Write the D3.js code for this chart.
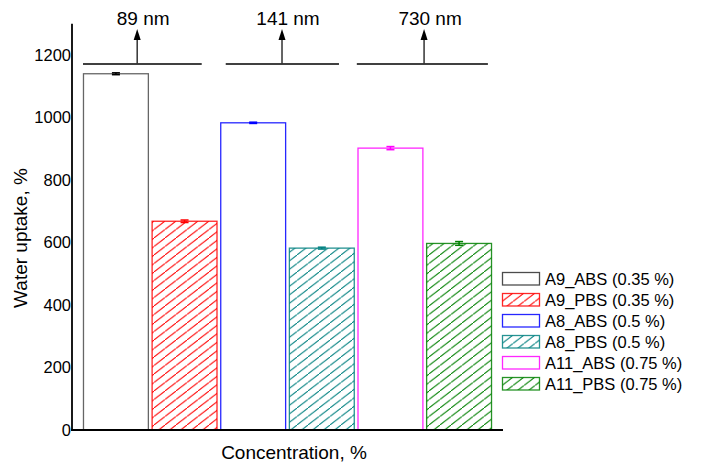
<!DOCTYPE html>
<html>
<head>
<meta charset="utf-8">
<script src="https://cdn.jsdelivr.net/npm/d3@7"></script>
<style>
  body { margin: 0; background: #fff; }
  svg { font-family: "Liberation Sans", Arial, sans-serif; }
</style>
</head>
<body>
<div id="chart"></div>
<script>
// data
const seriesNames = ["A9_ABS (0.35 %)", "A9_PBS (0.35 %)", "A8_ABS (0.5 %)", "A8_PBS (0.5 %)", "A11_ABS (0.75 %)", "A11_PBS (0.75 %)"];
const uptake = [1140, 668, 983, 582, 902, 597];
const uptakeErr = [3, 4, 2, 3, 5, 6];
const yTicks = [0, 200, 400, 600, 800, 1000, 1200];
const sizeLabels = ["89 nm", "141 nm", "730 nm"];

// styling
const strokeColors = ["#000000", "#ff0000", "#0000ff", "#008080", "#ff00ff", "#008000"];
const hatched = [false, true, false, true, false, true];

// bracket layout in bar-index units (annotation, not data)
const brackets = [
  { from: 0, to: 1.73, arrow: 0.79 },
  { from: 2.08, to: 3.73, arrow: 2.9 },
  { from: 3.99, to: 5.9, arrow: 4.97 }
];

const W = 701, H = 469;
const svg = d3.select("#chart").append("svg")
  .attr("width", W).attr("height", H);

const defs = svg.append("defs");
strokeColors.forEach((c, i) => {
  if (!hatched[i]) return;
  const p = defs.append("pattern")
    .attr("id", "hatch" + i)
    .attr("patternUnits", "userSpaceOnUse")
    .attr("width", 11).attr("height", 8.5);
  p.append("rect").attr("width", 11).attr("height", 8.5).attr("fill", "#fff");
  p.append("line")
    .attr("x1", -1).attr("y1", 8.5 + 8.5 / 11)
    .attr("x2", 12).attr("y2", -8.5 / 11)
    .attr("stroke", c).attr("stroke-width", 1);
});

const x = d3.scaleBand()
  .domain(d3.range(uptake.length))
  .range([72, 503])
  .paddingInner(0.04)
  .paddingOuter(0.16);

const y = d3.scaleLinear().domain([0, 1300]).range([430, 23.75]);

// index -> pixel for bracket annotations
const xi = d3.scaleLinear().domain([0, 1]).range([x(0), x(1)]);

// bars
svg.append("g").selectAll("rect")
  .data(uptake)
  .join("rect")
  .attr("x", (d, i) => x(i) + 0.5)
  .attr("y", d => y(d))
  .attr("width", x.bandwidth() - 1)
  .attr("height", d => y(0) - y(d))
  .attr("fill", (d, i) => hatched[i] ? `url(#hatch${i})` : "#fff")
  .attr("stroke", (d, i) => strokeColors[i])
  .attr("stroke-opacity", (d, i) => i === 0 ? 0.6 : 0.85)
  .attr("stroke-width", 1.3);

// error bars
const eb = svg.append("g");
uptake.forEach((v, i) => {
  const cx = x(i) + x.bandwidth() / 2;
  const c = strokeColors[i];
  eb.append("line").attr("x1", cx).attr("x2", cx)
    .attr("y1", y(v - uptakeErr[i])).attr("y2", y(v + uptakeErr[i]))
    .attr("stroke", c).attr("stroke-width", 1.5);
  [v - uptakeErr[i], v + uptakeErr[i]].forEach(e => {
    eb.append("line").attr("x1", cx - 4).attr("x2", cx + 4)
      .attr("y1", y(e)).attr("y2", y(e))
      .attr("stroke", c).attr("stroke-width", 1.5);
  });
});

// axes
const yAxis = svg.append("g")
  .attr("transform", "translate(72,0)")
  .call(d3.axisLeft(y).tickValues(yTicks).tickFormat(d3.format("d")).tickSize(0).tickPadding(1));
yAxis.select(".domain").remove();
yAxis.selectAll("text").attr("font-size", 16.5).attr("fill", "#000")
  .attr("font-family", "Liberation Sans, Arial, sans-serif");

svg.append("line").attr("x1", 72).attr("x2", 72)
  .attr("y1", y(1300)).attr("y2", y(0) + 1)
  .attr("stroke", "#000").attr("stroke-width", 1.8);
svg.append("line").attr("x1", 71).attr("x2", 503)
  .attr("y1", y(0)).attr("y2", y(0))
  .attr("stroke", "#000").attr("stroke-width", 1.8);

svg.append("text")
  .attr("transform", `translate(27,238) rotate(-90)`)
  .attr("text-anchor", "middle")
  .attr("font-size", 19)
  .text("Water uptake, %");

svg.append("text")
  .attr("x", 294).attr("y", 459)
  .attr("text-anchor", "middle")
  .attr("font-size", 19)
  .text("Concentration, %");

// size annotations
const ann = svg.append("g");
brackets.forEach((b, i) => {
  ann.append("line")
    .attr("x1", xi(b.from)).attr("x2", xi(b.to))
    .attr("y1", 64).attr("y2", 64)
    .attr("stroke", "#000").attr("stroke-width", 1.5);
  const ax = xi(b.arrow);
  ann.append("line")
    .attr("x1", ax).attr("x2", ax)
    .attr("y1", 64).attr("y2", 38)
    .attr("stroke", "#333").attr("stroke-width", 1.5);
  ann.append("path")
    .attr("d", `M${ax},29 L${ax - 3.5},40 L${ax + 3.5},40 Z`)
    .attr("fill", "#000");
  ann.append("text")
    .attr("x", ax + 6).attr("y", 25)
    .attr("text-anchor", "middle")
    .attr("font-size", 19)
    .text(sizeLabels[i]);
});

// legend
const lg = svg.append("g").attr("transform", "translate(502,272)");
seriesNames.forEach((name, i) => {
  const row = lg.append("g").attr("transform", `translate(0,${i * 21})`);
  row.append("rect")
    .attr("x", 0.5).attr("y", 0.5)
    .attr("width", 37).attr("height", 12.5)
    .attr("fill", hatched[i] ? `url(#hatch${i})` : "#fff")
    .attr("stroke", strokeColors[i])
    .attr("stroke-opacity", i === 0 ? 0.7 : 0.85)
    .attr("stroke-width", 1.3);
  row.append("text")
    .attr("x", 43).attr("y", 13)
    .attr("font-size", 16.5)
    .text(name);
});
</script>
</body>
</html>
